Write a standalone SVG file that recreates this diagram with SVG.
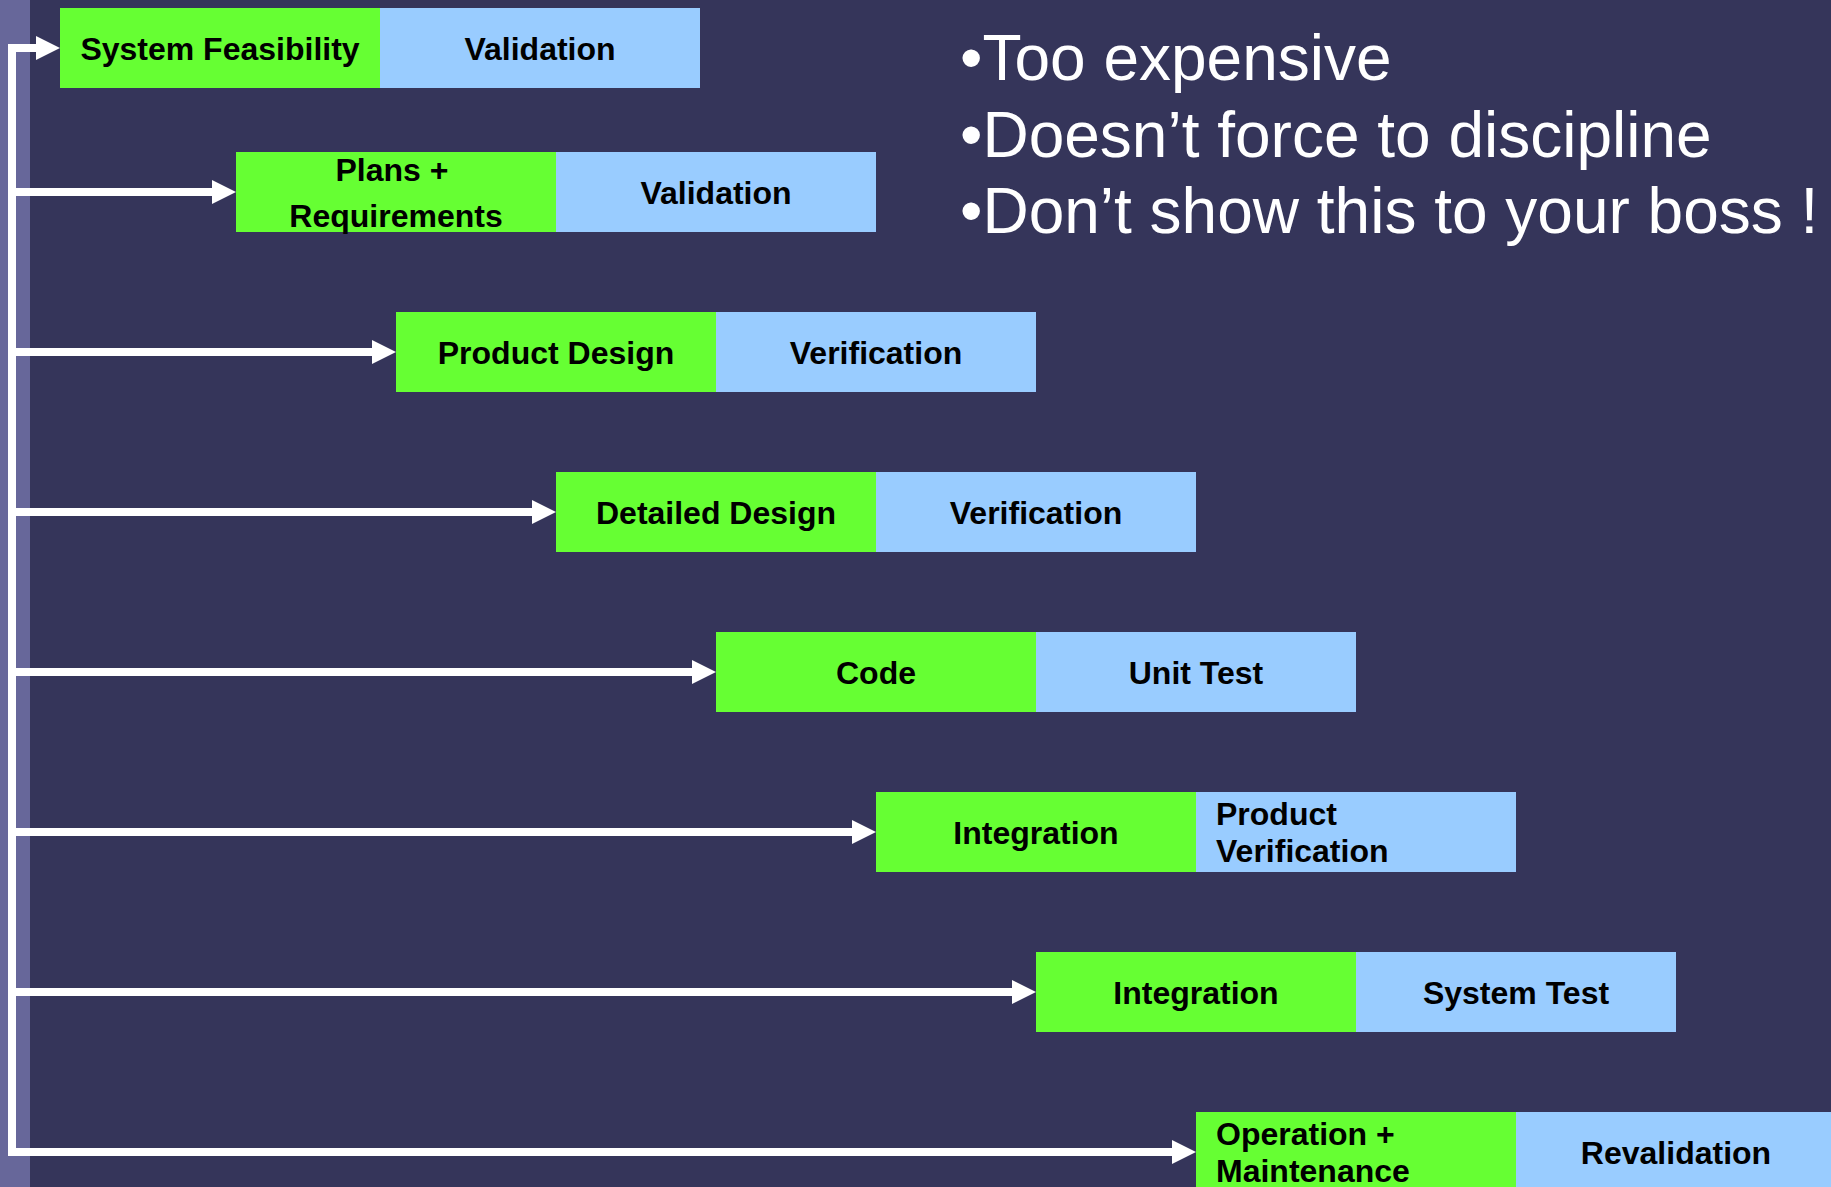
<svg xmlns="http://www.w3.org/2000/svg" width="1831" height="1187" viewBox="0 0 1831 1187">
  <style>
    .bg { fill: #35355A; }
    .band { fill: #67679A; }
    .phase { fill: #66FF33; }
    .check { fill: #99CCFF; }
    .lbl { font-family: "Liberation Sans", Arial, sans-serif; font-weight: bold; font-size: 32px; fill: #000; }
    .mid { text-anchor: middle; }
    .note { font-family: "Liberation Sans", Arial, sans-serif; font-size: 64px; fill: #fff; }
    .wire { fill: none; stroke: #fff; stroke-width: 8; }
  </style>
  <defs>
    <marker id="head" markerUnits="userSpaceOnUse" markerWidth="24" markerHeight="24" refX="0" refY="12" orient="auto" overflow="visible">
      <path d="M0 0 L24 12 L0 24 Z" fill="#fff"/>
    </marker>
  </defs>

  <rect class="bg" x="0" y="0" width="1831" height="1187"/>
  <rect class="band" x="0" y="0" width="30" height="1187"/>

  <!-- bullet notes -->
  <g id="notes">
    <text class="note" x="960" y="80">•Too expensive</text>
    <text class="note" x="960" y="157">•Doesn’t force to discipline</text>
    <text class="note" x="960" y="233">•Don’t show this to your boss !</text>
  </g>

  <!-- feedback trunk and branches -->
  <g id="connectors">
    <path class="wire" d="M12 48 V1152" stroke-linecap="square"/>
    <path class="wire" d="M12 48 H36" marker-end="url(#head)"/>
    <path class="wire" d="M12 192 H212" marker-end="url(#head)"/>
    <path class="wire" d="M12 352 H372" marker-end="url(#head)"/>
    <path class="wire" d="M12 512 H532" marker-end="url(#head)"/>
    <path class="wire" d="M12 672 H692" marker-end="url(#head)"/>
    <path class="wire" d="M12 832 H852" marker-end="url(#head)"/>
    <path class="wire" d="M12 992 H1012" marker-end="url(#head)"/>
    <path class="wire" d="M12 1152 H1172" marker-end="url(#head)"/>
  </g>

  <g id="feasibility">
    <rect class="phase" x="60" y="8" width="320" height="80"/>
    <rect class="check" x="380" y="8" width="320" height="80"/>
    <text class="lbl mid" x="220" y="60">System Feasibility</text>
    <text class="lbl mid" x="540" y="60">Validation</text>
  </g>

  <g id="requirements">
    <rect class="phase" x="236" y="152" width="320" height="80"/>
    <rect class="check" x="556" y="152" width="320" height="80"/>
    <text class="lbl mid" x="392" y="181">Plans +</text>
    <text class="lbl mid" x="396" y="227">Requirements</text>
    <text class="lbl mid" x="716" y="204">Validation</text>
  </g>

  <g id="product-design">
    <rect class="phase" x="396" y="312" width="320" height="80"/>
    <rect class="check" x="716" y="312" width="320" height="80"/>
    <text class="lbl mid" x="556" y="364">Product Design</text>
    <text class="lbl mid" x="876" y="364">Verification</text>
  </g>

  <g id="detailed-design">
    <rect class="phase" x="556" y="472" width="320" height="80"/>
    <rect class="check" x="876" y="472" width="320" height="80"/>
    <text class="lbl mid" x="716" y="524">Detailed Design</text>
    <text class="lbl mid" x="1036" y="524">Verification</text>
  </g>

  <g id="code">
    <rect class="phase" x="716" y="632" width="320" height="80"/>
    <rect class="check" x="1036" y="632" width="320" height="80"/>
    <text class="lbl mid" x="876" y="684">Code</text>
    <text class="lbl mid" x="1196" y="684">Unit Test</text>
  </g>

  <g id="integration-product">
    <rect class="phase" x="876" y="792" width="320" height="80"/>
    <rect class="check" x="1196" y="792" width="320" height="80"/>
    <text class="lbl mid" x="1036" y="844">Integration</text>
    <text class="lbl" x="1216" y="825">Product</text>
    <text class="lbl" x="1216" y="862">Verification</text>
  </g>

  <g id="integration-system">
    <rect class="phase" x="1036" y="952" width="320" height="80"/>
    <rect class="check" x="1356" y="952" width="320" height="80"/>
    <text class="lbl mid" x="1196" y="1004">Integration</text>
    <text class="lbl mid" x="1516" y="1004">System Test</text>
  </g>

  <g id="operation">
    <rect class="phase" x="1196" y="1112" width="320" height="80"/>
    <rect class="check" x="1516" y="1112" width="320" height="80"/>
    <text class="lbl" x="1216" y="1145">Operation +</text>
    <text class="lbl" x="1216" y="1182">Maintenance</text>
    <text class="lbl mid" x="1676" y="1164">Revalidation</text>
  </g>
</svg>
